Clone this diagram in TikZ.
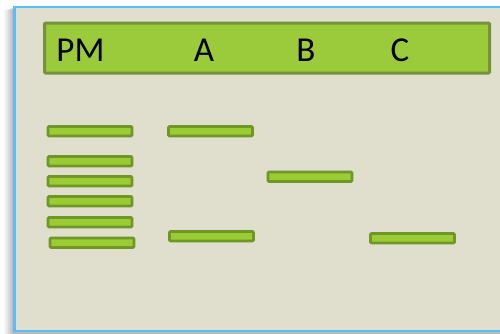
\documentclass[tikz,border=0pt]{standalone}
\usepackage{fontspec}
\setmainfont{Carlito}
\begin{document}
\begin{tikzpicture}[x=1pt,y=-1pt,
  band/.style={draw=bandline,fill=bandfill,line width=2.6pt,rounded corners=1pt},
  lbl/.style={anchor=base,inner sep=0pt,font=\fontsize{35}{35}\selectfont}]
\definecolor{bg}{RGB}{224,222,205}
\definecolor{frameblue}{RGB}{88,190,250}
\definecolor{bandfill}{RGB}{154,204,52}
\definecolor{bandline}{RGB}{112,150,38}
\definecolor{headfill}{RGB}{155,203,58}
\definecolor{headline}{RGB}{118,146,60}
\useasboundingbox (0,0) rectangle (500,333);
\clip (0,0) rectangle (500,333);
\fill[white] (0,0) rectangle (500,333);
% soft shadow
\foreach \d/\o in {10/0.04,8/0.05,6/0.06,4/0.07,2/0.08}{
  \fill[black,opacity=\o] (14-\d,7+\d*0.3) rectangle (505,333+\d);
}
% frame
\path[draw=frameblue,line width=2.6pt,fill=bg] (14.5,7) rectangle (506,331);
% header
\path[draw=headline,fill=headfill,line width=3pt,rounded corners=1pt] (44.5,23) rectangle (489.5,73);
\node[lbl] (pm) at (80.5,61) {PM};
\node[lbl] (a) at (204,61) {A};
\node[lbl] (b) at (306,61) {B};
\node[lbl] (c) at (400,61) {C};
% PM bands
\draw[band] (48,126.5) rectangle (132,136);
\draw[band] (48,156.5) rectangle (132,166);
\draw[band] (48,176.5) rectangle (132,186);
\draw[band] (48,196.5) rectangle (132,206);
\draw[band] (48,217.5) rectangle (132,227);
\draw[band] (50,238) rectangle (134,247.5);
% A bands
\draw[band] (168.5,126.5) rectangle (252.5,136);
\draw[band] (169.5,231.5) rectangle (253.5,241);
% B band
\draw[band] (268,172) rectangle (352,181.5);
% C band
\draw[band] (370.5,233.5) rectangle (454.5,243);
\end{tikzpicture}
\end{document}
